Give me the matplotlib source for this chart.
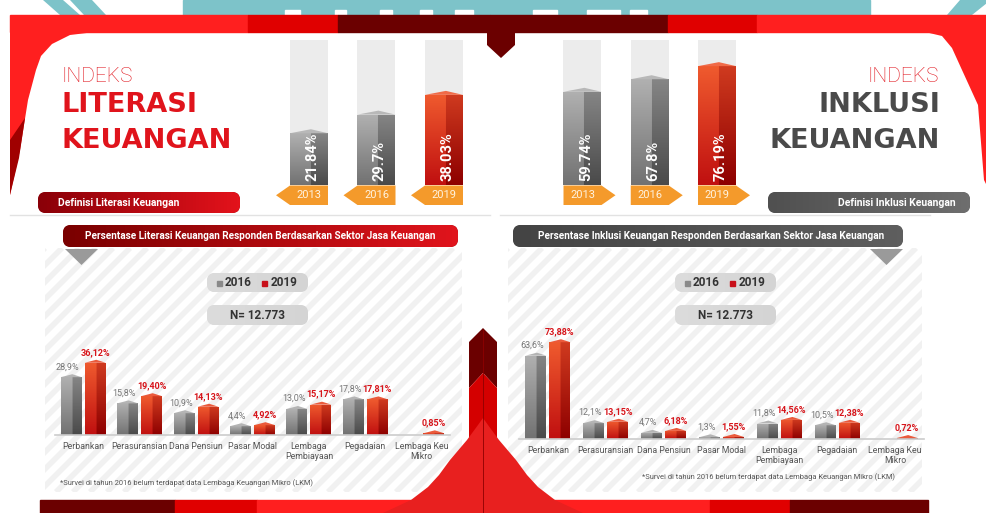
import numpy as np
import matplotlib.pyplot as plt
from matplotlib.patches import Polygon, Rectangle, FancyBboxPatch
from matplotlib.colors import to_rgb

plt.rcParams['font.family'] = ['Roboto', 'DejaVu Sans']

W, H = 987, 513

# ---- data ----
years = ['2013', '2016', '2019']
literasi_index = [21.84, 29.7, 38.03]
inklusi_index = [59.74, 67.8, 76.19]

sectors = ['Perbankan', 'Perasuransian', 'Dana Pensiun', 'Pasar Modal',
           'Lembaga\nPembiayaan', 'Pegadaian', 'Lembaga Keu\nMikro']
literasi_2016 = [28.9, 15.8, 10.9, 4.4, 13.0, 17.8, np.nan]
literasi_2019 = [36.12, 19.40, 14.13, 4.92, 15.17, 17.81, 0.85]
inklusi_2016 = [63.6, 12.1, 4.7, 1.3, 11.8, 10.5, np.nan]
inklusi_2019 = [73.88, 13.15, 6.18, 1.55, 14.56, 12.38, 0.72]
n_resp = 'N= 12.773'
footnote = '*Survei di tahun 2016 belum terdapat data Lembaga Keuangan Mikro (LKM)'

RED = '#ff1f1f'
MID_RED = '#e00000'
DARK_RED = '#6b0000'
ORANGE = '#f49a2b'
GRAY_FACE = ('#b0b0b0', '#727272', '#858585', '#4a4a4a')
RED_FACE = ('#ef5a2e', '#c01010', '#cf3a1f', '#8e0000')

fig = plt.figure(figsize=(W / 100, H / 100), dpi=100)
bg = fig.add_axes([0, 0, 1, 1])
bg.axis('off')


def px_axes(x0, y0, x1, y1):
    ax = fig.add_axes([x0 / W, 1 - y1 / H, (x1 - x0) / W, (y1 - y0) / H])
    ax.patch.set_visible(False)
    return ax


def poly(pts, color, z=1):
    bg.add_patch(Polygon(pts, closed=True, facecolor=color, edgecolor='none', zorder=z))


def pill(x, y, w, h, c0, c1, r=8):
    p = FancyBboxPatch((x, y), w, h, boxstyle=f'round,pad=0,rounding_size={r}',
                       facecolor=c0, edgecolor='none', zorder=1)
    bg.add_patch(p)
    a, b = np.array(to_rgb(c0)), np.array(to_rgb(c1))
    img = a + np.linspace(0, 1, 64)[None, :, None] * (b - a)
    im = bg.imshow(img, extent=[x, x + w, y + h, y], aspect='auto', zorder=1.1)
    im.set_clip_path(p)


def shade_bars(ax, bars, faces, split=0.55):
    # two-faced 3D look: lighter left face, darker right face, vertical gradient
    tl, bl, tr, br = [np.array(to_rgb(c)) for c in faces]
    t = np.linspace(0, 1, 40)[:, None, None]
    cols = np.linspace(0, 1, 40)[None, :, None] < split
    img = np.where(cols, tl + t * (bl - tl), tr + t * (br - tr))
    for b in bars:
        if not np.isfinite(b.get_height()) or b.get_height() <= 0:
            continue
        x, w, h = b.get_x(), b.get_width(), b.get_height()
        im = ax.imshow(img, extent=[x, x + w, 0, h], aspect='auto', zorder=2.1)
        im.set_clip_path(b)


def roofs(ax, bars, rh, color):
    for b in bars:
        h = b.get_height()
        if not np.isfinite(h):
            continue
        x, w = b.get_x(), b.get_width()
        ax.fill([x, x + 0.55 * w, x + w], [h, h + rh, h], color=color, zorder=2.2, lw=0)


# ---------------- decorations ----------------
# teal strip with watermark letters
bg.add_patch(Rectangle((183, 0), 687, 15, color='#7dc3c9', zorder=0.5))
for xa, xb in [(285, 300), (335, 346), (380, 392), (420, 432), (455, 473),
               (533, 557), (587, 620), (630, 647)]:
    bg.add_patch(Rectangle((xa, 10), xb - xa, 5, color='white', zorder=0.6))
poly([(43, 0), (63, 0), (80, 15), (60, 15)], '#7dc3c9', 0.5)
poly([(70, 0), (92, 0), (106, 15), (84, 15)], '#7dc3c9', 0.5)
poly([(960, 0), (987, 0), (987, 3), (972, 15), (947, 15)], '#7dc3c9', 0.5)

# top red bands
for xa, xb, c in [(10, 248, RED), (248, 338, MID_RED), (338, 490, DARK_RED),
                  (490, 668, DARK_RED), (668, 757, MID_RED), (757, 987, RED)]:
    bg.add_patch(Rectangle((xa, 15), xb - xa, 17, color=c, zorder=1))
poly([(10, 32), (95, 32), (70, 35), (52, 44), (41, 56), (36, 70), (28, 100),
      (20, 150), (10, 195)], RED)
poly([(10, 140), (25, 118), (19, 158), (10, 195)], '#a00000', 1.2)
poly([(987, 32), (925, 32), (942, 36), (952, 48), (962, 70), (978, 105),
      (984, 180), (987, 186)], RED)
poly([(487, 15), (515, 15), (515, 45), (501, 58), (487, 45)], DARK_RED, 1.3)

# separators
bg.plot([10, 490], [215, 215], color='#e2e2e2', lw=1, zorder=0.8)
bg.plot([500, 930], [215, 215], color='#e2e2e2', lw=1, zorder=0.8)


def stripes(x0, y0, x1, y1):
    clip = Rectangle((x0, y0), x1 - x0, y1 - y0, facecolor='none', edgecolor='none')
    bg.add_patch(clip)
    for c in np.arange(x0 - (y1 - y0), x1, 17):
        ln, = bg.plot([c, c + (y1 - y0)], [y1, y0], color='#f1f1f1', lw=4,
                      solid_capstyle='butt', zorder=0.3)
        ln.set_clip_path(clip)


stripes(45, 248, 462, 492)
stripes(508, 248, 922, 492)

# centre arrow and bell
poly([(483, 328), (497, 342), (497, 388), (483, 373), (469, 388), (469, 342)], DARK_RED, 1.5)
poly([(469, 388), (483, 373), (497, 388), (497, 440), (469, 440)], '#d40000', 1.5)
bell_y = [418, 425, 440, 460, 475, 487, 500, 513]
bell_hw = [0, 5, 16, 33, 44, 55, 72, 100]
bell = [(483 - h, y) for y, h in zip(bell_y[::-1], bell_hw[::-1])] + \
       [(483 + h, y) for y, h in zip(bell_y, bell_hw)]
poly(bell, '#e8201f', 1.6)
bg.plot([483, 483], [330, 513], color='#8e0000', lw=0.6, zorder=1.7)

# bottom bands
for xa, xb, c in [(40, 175, DARK_RED), (175, 257, MID_RED), (257, 483, RED),
                  (483, 710, RED), (710, 790, MID_RED), (790, 928, DARK_RED)]:
    bg.add_patch(Rectangle((xa, 500), xb - xa, 13, color=c, zorder=1.55))

# ---------------- titles ----------------
bg.text(62, 82, 'INDEKS', color='#e0141c', fontsize=15, fontweight='light', va='baseline', zorder=3)
bg.text(61, 112, 'LITERASI', color='#e0141c', fontsize=19.5, fontweight='bold',
        family='DejaVu Sans', va='baseline', zorder=3)
bg.text(61, 148, 'KEUANGAN', color='#e0141c', fontsize=19.5, fontweight='bold',
        family='DejaVu Sans', va='baseline', zorder=3)
bg.text(939, 82, 'INDEKS', color='#e0141c', fontsize=15, fontweight='light', ha='right',
        va='baseline', zorder=3)
bg.text(940, 112, 'INKLUSI', color='#4a4a4a', fontsize=19.5, fontweight='bold',
        family='DejaVu Sans', ha='right', va='baseline', zorder=3)
bg.text(940, 148, 'KEUANGAN', color='#4a4a4a', fontsize=19.5, fontweight='bold',
        family='DejaVu Sans', ha='right', va='baseline', zorder=3)

pill(38, 192, 202, 21, '#8a0008', '#e3121b')
bg.text(58, 203, 'Definisi Literasi Keuangan', color='white', fontsize=7.5,
        fontweight='bold', va='center', zorder=3)
pill(768, 192, 202, 21, '#505050', '#6e6e6e')
bg.text(956, 203, 'Definisi Inklusi Keuangan', color='white', fontsize=7.5,
        fontweight='bold', va='center', ha='right', zorder=3)

# section headers
pill(63, 225, 395, 22, '#7a0000', '#e0141c')
bg.text(260, 236, 'Persentase Literasi Keuangan Responden Berdasarkan Sektor Jasa Keuangan',
        color='white', fontsize=7.2, fontweight='bold', ha='center', va='center', zorder=3)
poly([(65, 249), (98, 249), (81.5, 265)], '#9a9a9a')
pill(513, 225, 390, 22, '#444444', '#5e5e5e')
bg.text(711, 236, 'Persentase Inklusi Keuangan Responden Berdasarkan Sektor Jasa Keuangan',
        color='white', fontsize=7.2, fontweight='bold', ha='center', va='center', zorder=3)
poly([(870, 249), (903, 249), (886.5, 265)], '#9a9a9a')

for dx in (0, 468):
    pill(207 + dx, 273, 101, 19, '#dcdcdc', '#d4d4d4')
    bg.add_patch(Rectangle((217 + dx, 280.5), 5, 5, color='#8a8a8a', zorder=3))
    bg.text(225 + dx, 283, '2016', color='#333333', fontsize=8.5, fontweight='bold',
            va='center', zorder=3)
    bg.add_patch(Rectangle((262 + dx, 280.5), 5, 5, color='#c8101a', zorder=3))
    bg.text(271 + dx, 283, '2019', color='#333333', fontsize=8.5, fontweight='bold',
            va='center', zorder=3)
    pill(207 + dx, 305, 101, 20, '#dcdcdc', '#d4d4d4')
    bg.text(257.5 + dx, 315.5, n_resp, color='#333333', fontsize=8.5, fontweight='bold',
            ha='center', va='center', zorder=3)

bg.text(60, 483, footnote, color='#555555', fontsize=5.4, va='center', zorder=3)
bg.text(642, 477, footnote, color='#555555', fontsize=5.4, va='center', zorder=3)


# ---------------- index charts ----------------
def index_chart(x0, x1, c0, sp, scale, values, col_top, tag_right):
    base, top, bot = 185, 38, 206
    ax = px_axes(x0, top, x1, bot)
    pos = np.arange(len(values))
    w = 38 / sp
    ax.bar(pos, col_top, w, color='#ececec', zorder=1)
    bars = ax.bar(pos, values, w, color='#808080', zorder=2)
    shade_bars(ax, bars[:2], GRAY_FACE)
    shade_bars(ax, bars[2:], RED_FACE)
    roofs(ax, bars[:2], 4 / scale, '#b8b8b8')
    roofs(ax, bars[2:], 4 / scale, '#f06a48')
    yb, yt = -20 / scale, -0.5 / scale
    a = 14 / sp
    for p, v, yr in zip(pos, values, years):
        ax.text(p + 0.05, 4 / scale, f'{v}%', rotation=90, ha='center', va='bottom',
                color='white', fontsize=10.5, fontweight='bold', zorder=3)
        xl, xr = p - w / 2, p + w / 2
        if tag_right:
            pts = [(xl, yt), (xr, yt), (xr + a, (yt + yb) / 2), (xr, yb), (xl, yb)]
        else:
            pts = [(xr, yt), (xl, yt), (xl - a, (yt + yb) / 2), (xl, yb), (xr, yb)]
        ax.add_patch(Polygon(pts, facecolor=ORANGE, edgecolor='none', zorder=2))
        ax.text(p, (yt + yb) / 2, yr, ha='center', va='center', color='#fff3e0',
                fontsize=8, zorder=3)
    ax.set_xlim((x0 - c0) / sp, (x1 - c0) / sp)
    ax.set_ylim(-(bot - base) / scale, (base - top) / scale)
    ax.axis('off')


index_chart(265, 475, 309, 67.5, 2.37, literasi_index, 61.2, False)
index_chart(545, 750, 582.5, 67.25, 1.56, inklusi_index, 93, True)


# ---------------- sector charts ----------------
def sector_chart(x0, x1, base, top, scale, v16, v19):
    ax = px_axes(x0, top, x1, base)
    n = len(sectors)
    pos = np.arange(n)
    sp = (x1 - x0) / n
    w, off = 21 / sp, 12 / sp
    rh = 3 / scale
    b16 = ax.bar(pos - off, v16, w, color='#7a7a7a', zorder=2)
    b19 = ax.bar(pos + off, v19, w, color='#c01010', zorder=2)
    shade_bars(ax, b16, GRAY_FACE)
    shade_bars(ax, b19, RED_FACE)
    roofs(ax, b16, rh, '#b4b4b4')
    roofs(ax, b19, rh, '#ea5a3c')
    for p, a, b in zip(pos, v16, v19):
        if np.isfinite(a):
            ax.text(p - off - 0.06, a + rh + 3 / scale, f'{a:.1f}%'.replace('.', ','),
                    ha='center', va='bottom', fontsize=6.5, color='#777777')
        ax.text(p + off, b + rh + 3 / scale, f'{b:.2f}%'.replace('.', ','),
                ha='center', va='bottom', fontsize=6.5, color='#d7141a', fontweight='bold')
    ax.set_xlim(-0.5, n - 0.5)
    ax.set_ylim(0, (base - top) / scale)
    ax.set_xticks(pos)
    ax.set_xticklabels(sectors, fontsize=6.3, color='#555555', linespacing=1.1)
    ax.tick_params(axis='x', length=0, pad=5)
    ax.set_yticks([])
    for s in ('left', 'right', 'top'):
        ax.spines[s].set_visible(False)
    ax.spines['bottom'].set_color('#cccccc')
    ax.spines['bottom'].set_linewidth(1.2)


sector_chart(55, 450, 435, 330, 2.0, literasi_2016, literasi_2019)
sector_chart(519, 924, 439, 320, 1.31, inklusi_2016, inklusi_2019)

bg.set_xlim(0, W)
bg.set_ylim(H, 0)
fig.savefig('out.png', dpi=100, facecolor='white')
